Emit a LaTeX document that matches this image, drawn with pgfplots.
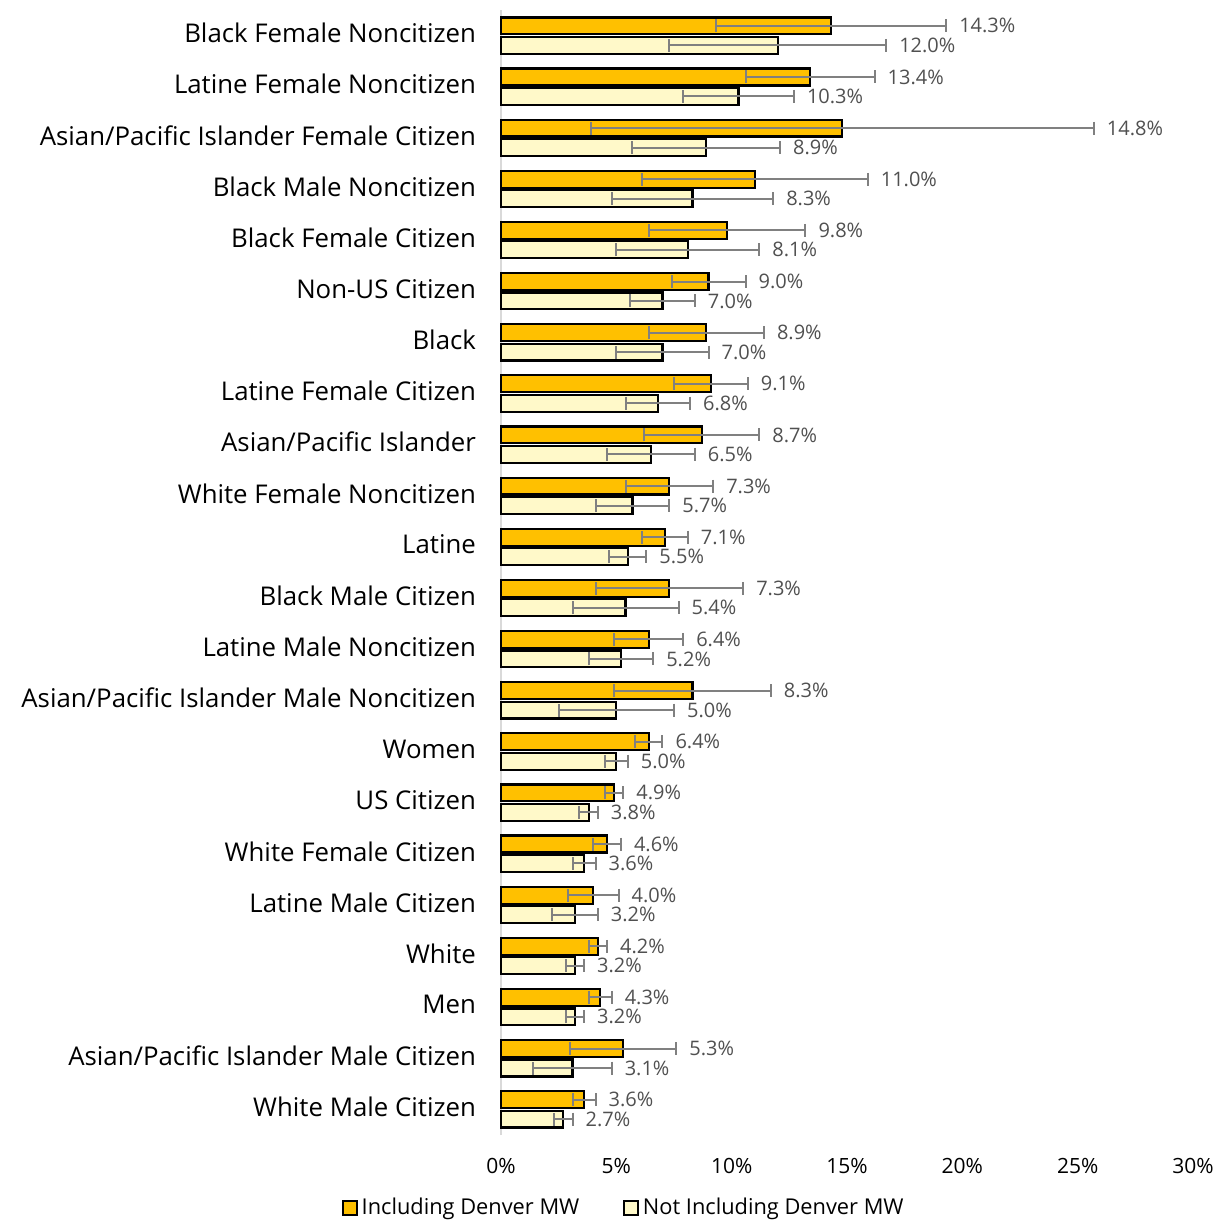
\documentclass[border=0pt]{standalone}
\usepackage{pgfplots}
\pgfplotsset{compat=1.18}
\usepackage{pgfplotstable}
\usepackage{fontspec}
\setmainfont{Open Sans}
\definecolor{incl}{RGB}{255,192,0}
\definecolor{notincl}{RGB}{255,249,201}
\definecolor{errc}{RGB}{128,128,128}
\definecolor{lblc}{RGB}{80,80,80}
\definecolor{axc}{RGB}{217,217,217}
\pgfplotstableread{
y inc ince not note
21 14.3 5.0 12.0 4.7
20 13.4 2.8 10.3 2.4
19 14.8 10.9 8.9 3.2
18 11.0 4.9 8.3 3.5
17 9.8 3.4 8.1 3.1
16 9.0 1.6 7.0 1.4
15 8.9 2.5 7.0 2.0
14 9.1 1.6 6.8 1.4
13 8.7 2.5 6.5 1.9
12 7.3 1.9 5.7 1.6
11 7.1 1.0 5.5 0.8
10 7.3 3.2 5.4 2.3
9 6.4 1.5 5.2 1.4
8 8.3 3.4 5.0 2.5
7 6.4 0.6 5.0 0.5
6 4.9 0.4 3.8 0.4
5 4.6 0.6 3.6 0.5
4 4.0 1.1 3.2 1.0
3 4.2 0.4 3.2 0.4
2 4.3 0.5 3.2 0.4
1 5.3 2.3 3.1 1.7
0 3.6 0.5 2.7 0.4
}\data
\pgfplotsset{
  errplot/.style={draw=none, mark=none, forget plot,
    error bars/.cd, x dir=both, x explicit, error mark=|,
    error bar style={draw=errc, line width=1pt},
    error mark options={draw=errc, line width=1pt, mark size=3.25pt}},
  lblplot/.style={draw=none, mark=none, forget plot, point meta=explicit,
    nodes near coords={\pgfmathprintnumber[fixed,fixed zerofill,precision=1]{\pgfplotspointmeta}\%},
    nodes near coords style={anchor=west, font=\fontsize{10}{11}\selectfont, text=lblc, xshift=3pt}},
}
\begin{document}
\begin{tikzpicture}
\begin{axis}[name=ax,
  width=346pt, height=562.5pt, scale only axis,
  xmin=0, xmax=30, ymin=-0.5, ymax=21.5,
  clip=false,
  /pgf/number format/assume math mode=true,
  xtick={0,5,...,30},
  xticklabel={\pgfmathprintnumber{\tick}\%},
  ytick={0,...,21},
  yticklabels={White Male Citizen, Asian/Pacific Islander Male Citizen, Men, White, Latine Male Citizen, White Female Citizen, US Citizen, Women, Asian/Pacific Islander Male Noncitizen, Latine Male Noncitizen, Black Male Citizen, Latine, White Female Noncitizen, Asian/Pacific Islander, Latine Female Citizen, Black, Non-US Citizen, Black Female Citizen, Black Male Noncitizen, Asian/Pacific Islander Female Citizen, Latine Female Noncitizen, Black Female Noncitizen},
  major tick length=0pt,
  axis lines*=left,
  axis line style={-},
  x axis line style={draw=none},
  y axis line style={draw=axc, line width=1pt},
  xticklabel style={font=\fontsize{10.5}{12}\selectfont, yshift=-8pt},
  yticklabel style={font=\fontsize{12.9}{14}\selectfont, xshift=-9pt, yshift=1.2pt},
  legend style={at={(axis description cs:0.179,-0.065)}, anchor=center, draw=none,
    legend columns=2, font=\fontsize{10.9}{12}\selectfont,
    /tikz/every even column/.append style={column sep=20pt}},
  legend image code/.code={\draw[#1, line width=0.8pt] (0pt,-3.5pt) rectangle (7pt,3.5pt);},
]
\addplot[xbar, bar width=0.33, bar shift=0.19, fill=incl, draw=black, line width=1.1pt]
  table[x=inc, y=y] {\data};
\addlegendentry{Including Denver MW}
\addplot[xbar, bar width=0.33, bar shift=-0.19, fill=notincl, draw=black, line width=1.1pt]
  table[x=not, y=y] {\data};
\addlegendentry{Not Including Denver MW}
\addplot[errplot] table[x=inc, y expr=\thisrow{y}+0.19, x error=ince] {\data};
\addplot[errplot] table[x=not, y expr=\thisrow{y}-0.19, x error=note] {\data};
\addplot[lblplot] table[x expr=\thisrow{inc}+\thisrow{ince}, y expr=\thisrow{y}+0.19, meta=inc] {\data};
\addplot[lblplot] table[x expr=\thisrow{not}+\thisrow{note}, y expr=\thisrow{y}-0.19, meta=not] {\data};
\end{axis}
\pgfresetboundingbox
\path ([shift={(-250.5pt,-42.5pt)}]ax.south west) rectangle ([shift={(15.5pt,5pt)}]ax.north east);
\end{tikzpicture}
\end{document}
